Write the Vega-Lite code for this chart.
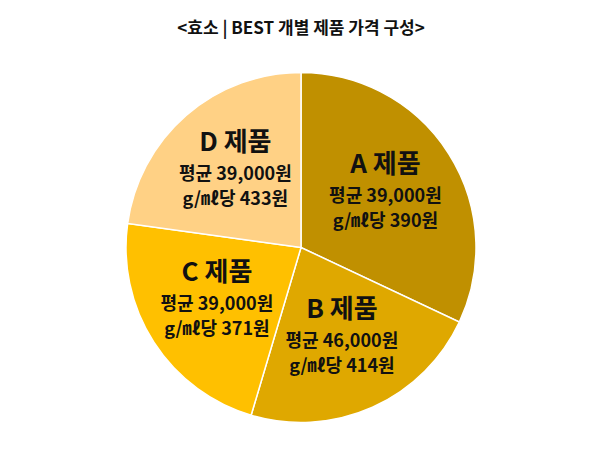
{
  "$schema": "https://vega.github.io/schema/vega-lite/v6.json",
  "width": 602,
  "height": 451,
  "autosize": {"type": "fit", "contains": "padding"},
  "padding": {"top": 20, "bottom": 0, "left": 0, "right": 0},
  "background": "white",
  "config": {"font": "Noto Sans CJK KR", "view": {"stroke": null}},
  "title": {
    "text": "<효소 | BEST 개별 제품 가격 구성>",
    "fontSize": 17,
    "fontWeight": "bold",
    "color": "#111111",
    "anchor": "middle",
    "offset": 6
  },
  "data": {
    "values": [
      {"product": "A", "share": 32.0, "name": "A 제품", "avg": "평균 39,000원", "perml": "g/㎖당 390원"},
      {"product": "B", "share": 22.6, "name": "B 제품", "avg": "평균 46,000원", "perml": "g/㎖당 414원"},
      {"product": "C", "share": 22.6, "name": "C 제품", "avg": "평균 39,000원", "perml": "g/㎖당 371원"},
      {"product": "D", "share": 22.8, "name": "D 제품", "avg": "평균 39,000원", "perml": "g/㎖당 433원"}
    ]
  },
  "encoding": {
    "theta": {"field": "share", "type": "quantitative", "stack": true},
    "order": {"field": "product", "type": "nominal"}
  },
  "layer": [
    {
      "mark": {"type": "arc", "radius": 175, "stroke": "white", "strokeWidth": 1.5},
      "encoding": {
        "color": {
          "field": "product",
          "type": "nominal",
          "scale": {"domain": ["A", "B", "C", "D"], "range": ["#C09000", "#DFA800", "#FFC000", "#FFD185"]},
          "legend": null
        }
      }
    },
    {
      "mark": {"type": "text", "radius": 100, "dy": -29, "fontSize": 26, "fontWeight": "bold", "color": "#111111"},
      "encoding": {"text": {"field": "name"}}
    },
    {
      "mark": {"type": "text", "radius": 100, "dy": 3, "fontSize": 18, "fontWeight": "bold", "color": "#111111"},
      "encoding": {"text": {"field": "avg"}}
    },
    {
      "mark": {"type": "text", "radius": 100, "dy": 28, "fontSize": 18, "fontWeight": "bold", "color": "#111111"},
      "encoding": {"text": {"field": "perml"}}
    }
  ]
}
